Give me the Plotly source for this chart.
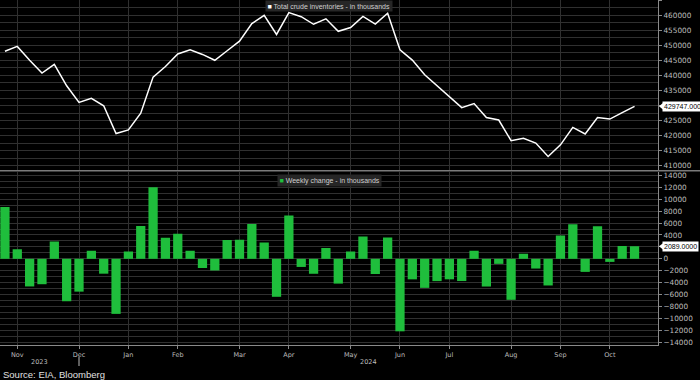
import pandas as pd
import plotly.graph_objects as go

# ---------------- data ----------------
week_ending = pd.date_range("2023-11-17", periods=52, freq="7D")  # weekly (Fridays)

inventories = [
    448055, 449664, 445031, 440772, 443681, 436567, 431064, 432402, 429910, 420677,
    421911, 427432, 439450, 442964, 447163, 448530, 446994, 445042, 448207, 451417,
    457258, 459993, 453625, 460890, 459528, 457020, 458845, 454689, 455922, 459652,
    457105, 460696, 448539, 445096, 440226, 436485, 433049, 429321, 430678, 426029,
    425183, 418310, 419143, 417513, 413042, 416931, 422741, 420550, 426024, 425509,
    427658, 429747,
]

weekly_change = [
    8701, 1609, -4633, -4259, 2909, -7114, -5503, 1338, -2492, -9233,
    1234, 5521, 12018, 3514, 4199, 1367, -1536, -1952, 3165, 3210,
    5841, 2735, -6368, 7265, -1362, -2508, 1825, -4156, 1233, 3730,
    -2547, 3591, -12157, -3443, -4870, -3741, -3436, -3728, 1357, -4649,
    -846, -6873, 833, -1630, -4471, 3889, 5810, -2191, 5474, -515,
    2149, 2089,
]

month_tick_dates = ["2023-11-24", "2023-12-29", "2024-01-26", "2024-02-23", "2024-03-29",
                    "2024-04-26", "2024-05-31", "2024-06-28", "2024-07-26", "2024-08-30",
                    "2024-09-27", "2024-10-25"]
month_tick_labels = ["Nov", "Dec", "Jan", "Feb", "Mar", "Apr", "May", "Jun", "Jul", "Aug", "Sep", "Oct"]
year_labels = ["2023", "2024"]
year_break = "2023-12-29"

top_legend = "Total crude inventories - in thousands"
bottom_legend = "Weekly change - in thousands"
source_text = "Source: EIA, Bloomberg"

# ---------------- styling / layout ----------------
W, H = 700, 380
ML, MR, MT, MB = 0, 42, 0, 35
PW, PH = W - ML - MR, H - MT - MB

GRID = "#303030"
AXIS = "#8a8a8a"
TICKTXT = "#bdbdbd"
GREEN = "#1fbe3c"
FONT = "Liberation Sans, Arial, sans-serif"
TICKFONT = "DejaVu Sans, Verdana, sans-serif"

step = pd.Timedelta(days=7)
x_left = week_ending[0] - 0.40 * step
x_right = week_ending[-1] + 1.9 * step
bar_width_ms = 0.75 * step.total_seconds() * 1000

top_range = [408570, 465090]
bot_range = [-14450, 14640]
top_dom = [(PH - 170) / PH, 1.0]
bot_dom = [0.0, (PH - 171.5) / PH]

fig = go.Figure()
fig.add_trace(go.Bar(
    x=week_ending, y=weekly_change, width=bar_width_ms,
    marker=dict(color=GREEN, line=dict(width=0)),
    xaxis="x", yaxis="y", showlegend=False, hoverinfo="x+y",
))
fig.add_trace(go.Scatter(
    x=week_ending, y=inventories, mode="lines",
    line=dict(color="white", width=1.5),
    xaxis="x2", yaxis="y2", showlegend=False,
))

common_x = dict(
    type="date", range=[x_left, x_right], tickmode="array",
    tickvals=month_tick_dates, ticktext=month_tick_labels, automargin=False,
    showgrid=True, gridcolor=GRID, gridwidth=1, zeroline=False,
)
common_y = dict(
    side="right", showgrid=True, gridcolor=GRID, gridwidth=1, zeroline=False,
    showline=True, linecolor=AXIS, linewidth=1, ticks="outside", ticklen=3,
    tickcolor=AXIS, tickfont=dict(size=7.3, color=TICKTXT, family=TICKFONT),
    tickformat="d", automargin=False,
)

fig.update_layout(
    template="none",
    width=W, height=H,
    margin=dict(l=ML, r=MR, t=MT, b=MB, autoexpand=False),
    paper_bgcolor="black", plot_bgcolor="black",
    font=dict(family=FONT, color=TICKTXT),
    showlegend=False,
    xaxis=dict(**common_x, anchor="y", domain=[0, 1], ticks="outside", ticklen=3,
               tickcolor=AXIS, showline=True, linecolor=AXIS, linewidth=1,
               tickfont=dict(size=6.5, color=TICKTXT, family=TICKFONT)),
    xaxis2=dict(**common_x, anchor="y2", domain=[0, 1], matches="x",
                showticklabels=False, ticks=""),
    yaxis=dict(**common_y, domain=bot_dom, range=bot_range, tick0=0, dtick=2000,
               minor=dict(dtick=1000, showgrid=True, gridcolor=GRID)),
    yaxis2=dict(**common_y, domain=top_dom, range=top_range, tick0=410000, dtick=5000,
                minor=dict(dtick=2500, showgrid=True, gridcolor=GRID)),
)

# legend-like boxes
fig.add_annotation(
    xref="paper", yref="paper", x=0.5, y=1.0, xanchor="center", yanchor="top",
    text=f"<span style='color:white'>■</span> {top_legend}",
    showarrow=False, bgcolor="#262626", borderpad=1.5,
    font=dict(size=7, color="#d0d0d0", family=FONT),
)
fig.add_annotation(
    xref="paper", yref="paper", x=0.5, y=bot_dom[1] - 2 / PH, xanchor="center", yanchor="top",
    text=f"<span style='color:{GREEN}'>■</span> {bottom_legend}",
    showarrow=False, bgcolor="#262626", borderpad=1.5,
    font=dict(size=7, color="#d0d0d0", family=FONT),
)

# last value labels with pointers
def last_value_label(value, yref, rng, dom, text):
    px_h = (dom[1] - dom[0]) * PH
    dy = 3.2 * (rng[1] - rng[0]) / px_h
    x_tip = 1 + 1 / PW
    x_base = 1 + 5 / PW
    fig.add_shape(type="path", xref="paper", yref=yref,
                  path=f"M {x_tip},{value} L {x_base},{value + dy} L {x_base},{value - dy} Z",
                  fillcolor="white", line=dict(width=0))
    fig.add_annotation(xref="paper", yref=yref, x=1, y=value, xanchor="left", yanchor="middle",
                       xshift=4, text=text, showarrow=False, bgcolor="white", borderpad=1,
                       font=dict(size=7, color="black", family=FONT))

last_value_label(inventories[-1], "y2", top_range, top_dom, f"{inventories[-1]:.4f}")
last_value_label(weekly_change[-1], "y", bot_range, bot_dom, f"{weekly_change[-1]:.4f}")

# separator between panels
sep_y = (PH - 170.7) / PH
fig.add_shape(type="line", xref="paper", yref="paper", x0=0, x1=W / PW, y0=sep_y, y1=sep_y,
              line=dict(color="#7a7a7a", width=1.5))

# year labels and separator
yb = pd.Timestamp(year_break)
mid_2023 = x_left + (yb - x_left) / 2
mid_2024 = yb + (x_right - yb) / 2
for lab, xm in zip(year_labels, [mid_2023, mid_2024]):
    fig.add_annotation(xref="x", yref="paper", x=xm, y=-17 / PH, yanchor="middle",
                       text=lab, showarrow=False,
                       font=dict(size=6.5, color=TICKTXT, family=TICKFONT))
fig.add_shape(type="line", xref="x", yref="paper", x0=yb, x1=yb, y0=-12 / PH, y1=-21 / PH,
              line=dict(color="#bdbdbd", width=1))

# source
fig.add_annotation(xref="paper", yref="paper", x=0, y=-29 / PH, xanchor="left", yanchor="middle",
                   xshift=1, text=source_text, showarrow=False,
                   font=dict(size=9.5, color="#e0e0e0", family=FONT))

fig.write_html(
    "out.html",
    config={"displayModeBar": False},
    post_script="document.body.style.margin='0';document.body.style.padding='0';"
                "document.body.style.background='black';",
)
